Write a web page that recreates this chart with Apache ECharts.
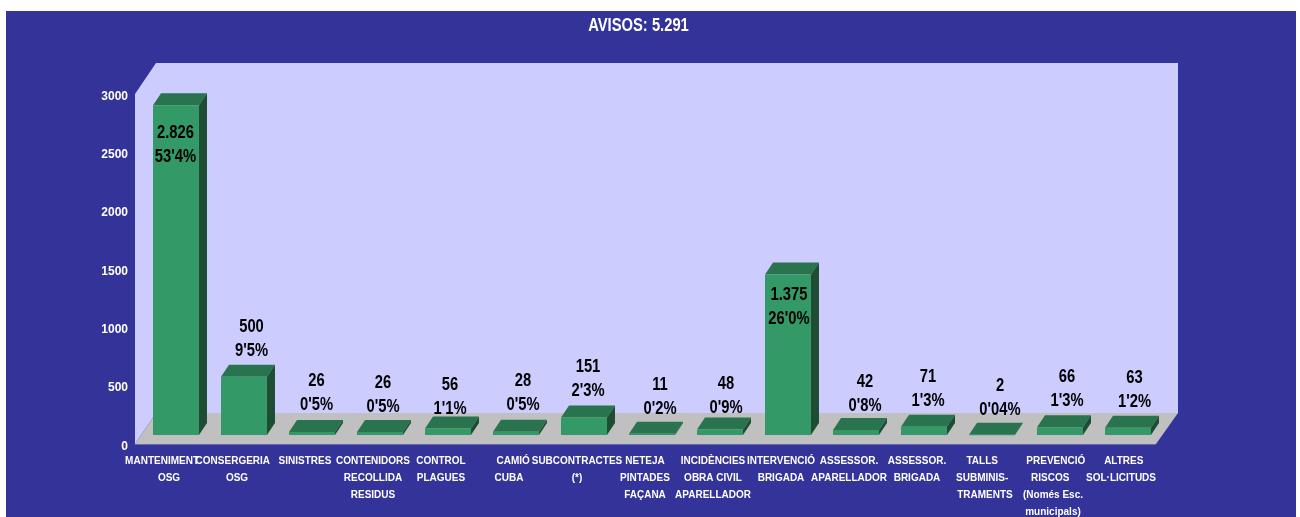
<!DOCTYPE html>
<html>
<head>
<meta charset="utf-8">
<style>html,body{margin:0;padding:0;background:#fff}#c{width:1300px;height:517px}</style>
<script src="https://cdn.jsdelivr.net/npm/echarts@6/dist/echarts.min.js"></script>
</head>
<body>
<div id="c"></div>
<script>
const titleText = 'AVISOS: 5.291';
const categories = [
  'MANTENIMENT     \nOSG', 'CONSERGERIA   \nOSG', 'SINISTRES',
  'CONTENIDORS\nRECOLLIDA\nRESIDUS', 'CONTROL\nPLAGUES', '   CAMIÓ\nCUBA',
  'SUBCONTRACTES\n(*)', 'NETEJA\nPINTADES\nFAÇANA', 'INCIDÈNCIES\nOBRA CIVIL\nAPARELLADOR',
  'INTERVENCIÓ\nBRIGADA', 'ASSESSOR.\nAPARELLADOR', 'ASSESSOR.\nBRIGADA',
  'TALLS  \nSUBMINIS-  \nTRAMENTS', '  PREVENCIÓ\nRISCOS  \n(Només Esc.\nmunicipals)', '  ALTRES\nSOL·LICITUDS'
];
const values = [2826, 500, 26, 26, 56, 28, 151, 11, 48, 1375, 42, 71, 2, 66, 63];
const valueLabels = ['2.826','500','26','26','56','28','151','11','48','1.375','42','71','2','66','63'];
const shareLabels = ["53'4%","9'5%","0'5%","0'5%","1'1%","0'5%","2'3%","0'2%","0'9%","26'0%","0'8%","1'3%","0'04%","1'3%","1'2%"];
const yTicks = { min: 0, max: 3000, interval: 500 };
// hand-placed label nudges of the original chart, in px from the bar's top centre
const labelNudge = [[6.5,31],[14.5,-47],[11.5,-48],[10,-45.5],[9,-40],[14,-47.5],[11,-47],[15,-45.5],[13,-42.5],[8,23],[16,-45.5],[11,-46.5],[15,-45.5],[14,-47.5],[13.5,-46.5]];

const SANS = '"Liberation Sans",Arial,sans-serif';
const CONDENSE = 0.82;               // the original's text is squeezed sideways
const WALL_DX = 21, WALL_DY = -31;   // depth of the chart box
const BAR_DX = 8, BAR_DY = -12;      // depth of a bar
const BAR_SHIFT_X = 7, BAR_SHIFT_Y = -9;  // where a bar stands on the floor

function poly(points, fill, z2) {
  return { type: 'polygon', z2: z2 || 0, shape: { points }, style: { fill, stroke: null } };
}

function renderBox(params, api) {
  const cs = params.coordSys;
  const l = cs.x, t = cs.y, r = cs.x + cs.width, b = cs.y + cs.height;
  return { type: 'group', children: [
    poly([[l,t],[l+WALL_DX,t+WALL_DY],[r+WALL_DX+2,t+WALL_DY],[r+WALL_DX+2,b+WALL_DY],[l+WALL_DX,b+WALL_DY],[l,b]], '#ccccff'),
    poly([[l,b],[l+WALL_DX,b+WALL_DY],[r+WALL_DX+2,b+WALL_DY],[r+1,b]], '#c0c0c0')
  ]};
}

function renderBar(params, api) {
  const i = api.value(0), v = api.value(1);
  const top = api.coord([i, v]), base = api.coord([i, 0]);
  const w = api.size([1, 0])[0] * 0.676;
  const x0 = top[0] + BAR_SHIFT_X - w / 2, x1 = x0 + w;
  const y0 = top[1] + BAR_SHIFT_Y, y1 = base[1] + BAR_SHIFT_Y;
  const n = labelNudge[i];
  const lx = top[0] + n[0], ly = top[1] + n[1];
  const label = (text, y) => ({
    type: 'text', z2: 10, x: lx, y: y, scaleX: CONDENSE,
    style: { text, fill: '#000', font: 'bold 18px ' + SANS, align: 'center', verticalAlign: 'middle' }
  });
  return { type: 'group', children: [
    poly([[x0,y0],[x0+BAR_DX,y0+BAR_DY],[x1+BAR_DX,y0+BAR_DY],[x1,y0]], '#29734f'),
    poly([[x1,y0],[x1+BAR_DX,y0+BAR_DY],[x1+BAR_DX,y1+BAR_DY],[x1,y1]], '#1e4d33'),
    { type: 'rect', shape: { x: x0, y: y0, width: w, height: Math.max(y1 - y0, 0.5) }, style: { fill: '#339966' } },
    label(valueLabels[i], ly - 12),
    label(shareLabels[i], ly + 12)
  ]};
}

const chart = echarts.init(document.getElementById('c'), null, { renderer: 'canvas' });
chart.setOption({
  animation: false,
  backgroundColor: '#ffffff',
  graphic: [
    { type: 'rect', z: -10, shape: { x: 6, y: 11, width: 1290, height: 506 }, style: { fill: '#333399' } },
    { type: 'text', z: 10, x: 638.5, y: 26, scaleX: CONDENSE,
      style: { text: titleText, fill: '#fff', font: 'bold 18px ' + SANS, align: 'center', verticalAlign: 'middle' } }
  ],
  grid: { left: 135, top: 94, width: 1020, height: 350, outerBoundsMode: 'none', containLabel: false },
  xAxis: {
    type: 'category', data: categories, boundaryGap: true,
    axisTick: { show: false },
    axisLine: { lineStyle: { color: '#6668b4', width: 1 } },
    axisLabel: { interval: 0, hideOverlap: false, margin: 8.5, color: '#fff', fontFamily: SANS, fontWeight: 'bold', fontSize: 10, lineHeight: 17 }
  },
  yAxis: {
    type: 'value', min: yTicks.min, max: yTicks.max, interval: yTicks.interval,
    splitLine: { show: false },
    axisTick: { show: false },
    axisLine: { show: true, lineStyle: { color: '#6668b4', width: 1 } },
    axisLabel: { margin: 7, color: '#fff', formatter: v => '{t|' + v + '}',
      rich: { t: { color: '#fff', fontFamily: SANS, fontWeight: 'bold', fontSize: 12, lineHeight: 14, padding: [5, 0, 0, 0] } } }
  },
  series: [
    { type: 'custom', z: 1, silent: true, clip: false, data: [[0, 0]], encode: { x: 0, y: 1 }, renderItem: renderBox },
    { type: 'custom', z: 2, silent: true, clip: false, data: values.map((v, i) => [i, v]), encode: { x: 0, y: 1 }, renderItem: renderBar }
  ]
});
</script>
</body>
</html>
